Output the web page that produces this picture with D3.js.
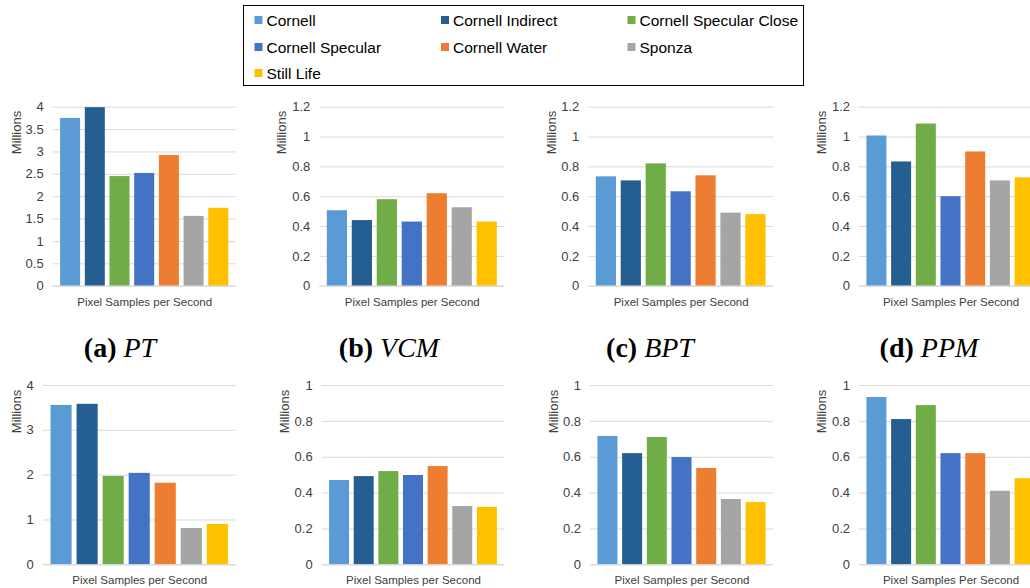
<!DOCTYPE html>
<html>
<head>
<meta charset="utf-8">
<script src="https://cdn.jsdelivr.net/npm/d3@7/dist/d3.min.js"></script>
<style>
  html, body { margin: 0; padding: 0; background: #fff; }
  svg { display: block; }
  .tick text { font-family: "Liberation Sans", Arial, sans-serif; fill: #404040; }
</style>
</head>
<body>
<svg id="chart" width="1030" height="588"></svg>
<script>
// Scenes rendered (one bar each per panel)
const scenes = ["Cornell", "Cornell Indirect", "Cornell Specular Close", "Cornell Specular", "Cornell Water", "Sponza", "Still Life"];
const sceneColors = ["#5B9BD5", "#255E91", "#70AD47", "#4472C4", "#ED7D31", "#A5A5A5", "#FFC000"];

// Pixel samples per second, in millions
const ptTop = [3.75, 3.99, 2.45, 2.52, 2.92, 1.56, 1.74];
const vcmTop = [0.506, 0.44, 0.58, 0.43, 0.62, 0.526, 0.43];
const bptTop = [0.733, 0.706, 0.82, 0.633, 0.74, 0.49, 0.48];
const ppmTop = [1.007, 0.833, 1.087, 0.60, 0.90, 0.706, 0.726];
const ptBottom = [3.555, 3.58, 1.97, 2.04, 1.82, 0.81, 0.90];
const vcmBottom = [0.47, 0.492, 0.52, 0.498, 0.548, 0.325, 0.32];
const bptBottom = [0.716, 0.62, 0.71, 0.598, 0.537, 0.364, 0.347];
const ppmBottom = [0.933, 0.81, 0.888, 0.62, 0.62, 0.41, 0.48];

// Tick values for the value axes
const ticksPTTop = [0, 0.5, 1, 1.5, 2, 2.5, 3, 3.5, 4];
const ticksTop = [0, 0.2, 0.4, 0.6, 0.8, 1, 1.2];
const ticksPTBottom = [0, 1, 2, 3, 4];
const ticksBottom = [0, 0.2, 0.4, 0.6, 0.8, 1];

const titleLower = "Pixel Samples per Second";
const titleUpper = "Pixel Samples Per Second";
const unitLabel = "Millions";

// Captions under the top row: bold letter, italic method name
const captionLetters = ["(a)", "(b)", "(c)", "(d)"];
const captionMethods = ["PT", "VCM", "BPT", "PPM"];

// Panel layout: plot box, label placement
const panels = [
  { values: ptTop,     ticks: ticksPTTop,    title: titleLower, x0: 52.7,  x1: 235.7,  y0: 106.7, y1: 285.7, unitX: 16,    unitY: 132.5, titleY: 306 },
  { values: vcmTop,    ticks: ticksTop,      title: titleLower, x0: 319.3, x1: 504.3,  y0: 106.7, y1: 285.7, unitX: 281.7, unitY: 132.5, titleY: 306 },
  { values: bptTop,    ticks: ticksTop,      title: titleLower, x0: 588.3, x1: 773,    y0: 106.7, y1: 285.7, unitX: 551,   unitY: 132.5, titleY: 306 },
  { values: ppmTop,    ticks: ticksTop,      title: titleUpper, x0: 859,   x1: 1042,   y0: 106.7, y1: 285.7, unitX: 821,   unitY: 132.5, titleY: 306 },
  { values: ptBottom,  ticks: ticksPTBottom, title: titleLower, x0: 42.7,  x1: 235.7,  y0: 385,   y1: 564.3, unitX: 16,    unitY: 411.5, titleY: 583.5 },
  { values: vcmBottom, ticks: ticksBottom,   title: titleLower, x0: 321.7, x1: 504.3,  y0: 385,   y1: 564.3, unitX: 284,   unitY: 411.5, titleY: 583.5 },
  { values: bptBottom, ticks: ticksBottom,   title: titleLower, x0: 590,   x1: 773,    y0: 385,   y1: 564.3, unitX: 553,   unitY: 411.5, titleY: 583.5 },
  { values: ppmBottom, ticks: ticksBottom,   title: titleUpper, x0: 859,   x1: 1042,   y0: 385,   y1: 564.3, unitX: 821.5, unitY: 411.5, titleY: 583.5 }
];

const svg = d3.select("#chart");
const sans = "'Liberation Sans', Arial, sans-serif";

panels.forEach(p => {
  const g = svg.append("g");
  const x = d3.scaleBand().domain(scenes).range([p.x0, p.x1]).paddingInner(0.19).paddingOuter(0.3);
  const y = d3.scaleLinear().domain([0, p.ticks[p.ticks.length - 1]]).range([p.y1, p.y0]);

  // gridlines + tick labels
  const axis = d3.axisLeft(y)
    .tickValues(p.ticks)
    .tickFormat(d => String(d))
    .tickSize(-(p.x1 - p.x0))
    .tickPadding(9);
  const ag = g.append("g").attr("transform", `translate(${p.x0},0)`).call(axis);
  ag.select(".domain").remove();
  ag.selectAll(".tick line").attr("stroke", "#d9d9d9").attr("stroke-width", 1);
  ag.selectAll(".tick text").style("font-size", "13px").attr("fill", "#404040");

  // bars
  g.selectAll("rect.bar")
    .data(scenes.map((s, i) => ({ s, v: p.values[i], c: sceneColors[i] })))
    .join("rect")
    .attr("class", "bar")
    .attr("x", d => x(d.s))
    .attr("width", x.bandwidth())
    .attr("y", d => y(d.v))
    .attr("height", d => y(0) - y(d.v))
    .attr("fill", d => d.c);

  // baseline
  g.append("line")
    .attr("x1", p.x0).attr("x2", p.x1)
    .attr("y1", y(0) + 0.5).attr("y2", y(0) + 0.5)
    .attr("stroke", "#d9d9d9").attr("stroke-width", 1);

  // display-unit label
  g.append("text")
    .attr("transform", `translate(${p.unitX},${p.unitY}) rotate(-90)`)
    .attr("text-anchor", "middle")
    .attr("dominant-baseline", "central")
    .style("font-family", sans).style("font-size", "13px")
    .attr("fill", "#404040")
    .text(unitLabel);

  // axis title
  g.append("text")
    .attr("x", (p.x0 + p.x1) / 2 + 0.5)
    .attr("y", p.titleY)
    .attr("text-anchor", "middle")
    .style("font-family", sans).style("font-size", "11.5px")
    .attr("fill", "#404040")
    .text(p.title);
});

// captions
const captionCenters = [120, 389, 650, 929];
captionLetters.forEach((l, i) => {
  const t = svg.append("text")
    .attr("x", captionCenters[i]).attr("y", 356.5)
    .attr("text-anchor", "middle")
    .style("font-family", "'Liberation Serif', 'Times New Roman', serif")
    .style("font-size", "28px")
    .attr("fill", "#000");
  t.append("tspan").style("font-weight", "bold").text(l + " ");
  t.append("tspan").style("font-style", "italic").text(captionMethods[i]);
});

// legend
const legend = svg.append("g");
legend.append("rect")
  .attr("x", 243.5).attr("y", 5.5).attr("width", 560).attr("height", 80)
  .attr("fill", "#fff").attr("stroke", "#000").attr("stroke-width", 1);
const colX = [254.5, 441, 627.5];
const rowY = [20, 47, 73];
scenes.forEach((s, i) => {
  const cx = colX[i % 3], cy = rowY[Math.floor(i / 3)];
  legend.append("rect")
    .attr("x", cx).attr("y", cy - 4).attr("width", 8).attr("height", 8)
    .attr("fill", sceneColors[i]);
  legend.append("text")
    .attr("x", cx + 12).attr("y", cy)
    .attr("dominant-baseline", "central")
    .style("font-family", sans).style("font-size", "15.5px")
    .attr("fill", "#000")
    .text(s);
});
</script>
</body>
</html>
